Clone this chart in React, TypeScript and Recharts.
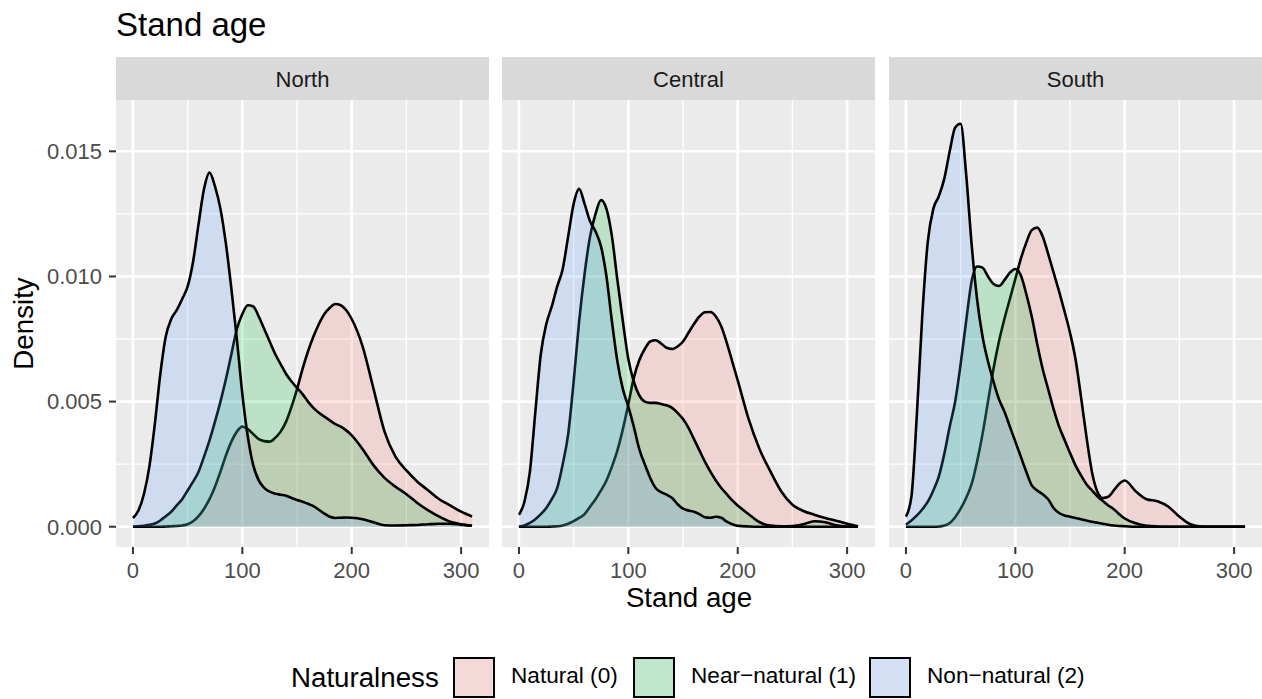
import React from 'react';
import { AreaChart, Area, XAxis, YAxis, CartesianGrid } from 'recharts';

const FONT = '"Liberation Sans", Arial, Helvetica, sans-serif';

// stand age grid (years)
const ages = [
  0, 5, 10, 15, 20, 25, 30, 35, 40, 45, 50, 55, 60, 65, 70, 75, 80, 85, 90, 95, 100,
  105, 110, 115, 120, 125, 130, 135, 140, 145, 150, 155, 160, 165, 170, 175, 180, 185,
  190, 195, 200, 210, 220, 230, 240, 250, 260, 270, 280, 290, 300, 310,
];

const regions = ['North', 'Central', 'South'];
const categories = ['Natural (0)', 'Near\u2212natural (1)', 'Non\u2212natural (2)'];
const colors = ['#F8766D', '#00BA38', '#619CFF'];

const xTicks = [0, 100, 200, 300];
const xMinor = [50, 150, 250];
const yTicks = [0, 0.005, 0.01, 0.015];
const yMinor = [0.0025, 0.0075, 0.0125];

// densities, in units of 0.001
const northNatural = [0, 0, 0, 0, 0, 0, 0.01, 0.02, 0.03, 0.05, 0.1, 0.22, 0.42, 0.72, 1.1, 1.6, 2.2, 2.85, 3.4, 3.8, 4.0, 3.9, 3.7, 3.5, 3.42, 3.4, 3.55, 3.8, 4.2, 4.8, 5.5, 6.3, 7.0, 7.6, 8.1, 8.5, 8.75, 8.9, 8.85, 8.65, 8.3, 7.2, 5.5, 3.8, 2.8, 2.25, 1.8, 1.45, 1.1, 0.85, 0.6, 0.41];
const northNear = [0, 0.02, 0.04, 0.08, 0.13, 0.25, 0.42, 0.6, 0.85, 1.1, 1.45, 1.8, 2.2, 2.8, 3.45, 4.2, 5.0, 5.9, 6.9, 7.9, 8.5, 8.85, 8.8, 8.4, 7.9, 7.4, 6.9, 6.5, 6.1, 5.8, 5.55, 5.3, 5.0, 4.75, 4.55, 4.4, 4.25, 4.1, 4.0, 3.85, 3.65, 3.1, 2.45, 1.95, 1.6, 1.3, 0.95, 0.65, 0.4, 0.2, 0.1, 0.04];
const northNon = [0.35, 0.65, 1.3, 2.4, 4.1, 6.1, 7.6, 8.3, 8.65, 9.1, 9.6, 10.6, 12.1, 13.5, 14.15, 13.6, 12.7, 11.3, 9.5, 7.5, 5.3, 3.6, 2.45, 1.85, 1.55, 1.4, 1.32, 1.28, 1.24, 1.15, 1.07, 1.0, 0.92, 0.82, 0.68, 0.52, 0.4, 0.35, 0.36, 0.37, 0.36, 0.3, 0.18, 0.06, 0.05, 0.06, 0.07, 0.1, 0.12, 0.12, 0.08, 0.04];

const centralNatural = [0, 0, 0, 0, 0, 0, 0.01, 0.02, 0.05, 0.12, 0.22, 0.35, 0.5, 0.8, 1.1, 1.45, 1.85, 2.4, 3.05, 3.9, 4.9, 5.95, 6.65, 7.1, 7.4, 7.45, 7.32, 7.15, 7.1, 7.2, 7.4, 7.75, 8.1, 8.4, 8.57, 8.58, 8.4, 8.0, 7.35, 6.6, 5.85, 4.3, 3.1, 2.2, 1.4, 0.88, 0.63, 0.48, 0.35, 0.24, 0.12, 0.02];
const centralNear = [0, 0.05, 0.15, 0.3, 0.5, 0.75, 1.1, 1.55, 2.5, 3.7, 5.8, 8.2, 10.1, 11.6, 12.5, 13.05, 12.7, 11.6, 9.85, 8.2, 6.7, 5.8, 5.25, 5.0, 4.95, 4.95, 4.9, 4.85, 4.75, 4.55, 4.3, 3.95, 3.5, 3.05, 2.6, 2.2, 1.85, 1.55, 1.3, 1.05, 0.85, 0.5, 0.18, 0.05, 0.02, 0.03, 0.1, 0.22, 0.18, 0.06, 0.01, 0];
const centralNon = [0.48, 1.0, 2.2, 4.6, 6.9, 8.1, 8.8, 9.6, 10.3, 11.6, 12.9, 13.5, 12.9, 12.2, 11.8, 11.2, 10.0, 8.2, 6.6, 5.5, 4.8, 4.0, 3.1, 2.5, 1.95, 1.55, 1.38, 1.28, 1.15, 0.9, 0.72, 0.65, 0.6, 0.5, 0.38, 0.36, 0.4, 0.36, 0.2, 0.1, 0.04, 0.01, 0, 0, 0, 0, 0, 0, 0, 0, 0, 0];

const southNatural = [0, 0, 0, 0, 0, 0, 0.01, 0.05, 0.15, 0.38, 0.72, 1.15, 1.7, 2.6, 3.7, 5.0, 6.3, 7.4, 8.3, 9.1, 9.9, 10.7, 11.35, 11.85, 11.95, 11.6, 10.9, 10.15, 9.4, 8.6, 7.75, 6.7, 5.2, 3.6, 2.2, 1.4, 1.15, 1.2, 1.45, 1.72, 1.85, 1.42, 1.1, 1.02, 0.8, 0.4, 0.1, 0.01, 0, 0, 0, 0];
const southNear = [0.08, 0.25, 0.45, 0.7, 1.0, 1.45, 2.0, 2.9, 4.0, 5.0, 6.5, 8.2, 9.8, 10.4, 10.35, 10.0, 9.7, 9.62, 9.85, 10.15, 10.3, 10.05, 9.3, 8.4, 7.3, 6.3, 5.5, 4.7, 4.0, 3.47, 2.95, 2.45, 2.05, 1.7, 1.45, 1.22, 1.03, 0.85, 0.7, 0.5, 0.33, 0.14, 0.04, 0.01, 0, 0, 0, 0, 0, 0, 0, 0];
const southNon = [0.4, 1.2, 4.5, 8.5, 11.4, 12.7, 13.2, 13.9, 15.0, 15.95, 16.1, 14.1, 11.3, 9.1, 7.6, 6.6, 5.8, 5.1, 4.6, 4.0, 3.4, 2.8, 2.2, 1.65, 1.45, 1.3, 1.1, 0.75, 0.55, 0.45, 0.4, 0.35, 0.3, 0.25, 0.2, 0.16, 0.12, 0.08, 0.05, 0.03, 0.02, 0, 0, 0, 0, 0, 0, 0, 0, 0, 0, 0];

const buildRows = (natural: number[], near: number[], non: number[]) =>
  ages.map((age, i) => ({ age, s0: natural[i] / 1000, s1: near[i] / 1000, s2: non[i] / 1000 }));

const panelRows = [
  buildRows(northNatural, northNear, northNon),
  buildRows(centralNatural, centralNear, centralNon),
  buildRows(southNatural, southNear, southNon),
];

// layout
const PANEL_LEFT = [116, 502, 889];
const PANEL_W = 373;
const PLOT_TOP = 100;
const PLOT_H = 447;
const AXIS_H = 53;
const Y_AXIS_W = 116;
const STRIP_TOP = 57;
const STRIP_H = 43;
const X_DOMAIN: [number, number] = [-15.5, 325.5];
const Y_DOMAIN: [number, number] = [-0.00081, 0.01705];

const tickStyle = { fill: '#4D4D4D', fontSize: 22, fontFamily: FONT };
const tickLine = { stroke: '#333333', strokeWidth: 2 };

function Panel({ idx }: { idx: number }) {
  const showY = idx === 0;
  const width = showY ? Y_AXIS_W + PANEL_W : PANEL_W;
  const left = showY ? 0 : PANEL_LEFT[idx];
  return (
    <div style={{ position: 'absolute', left, top: PLOT_TOP }}>
      <AreaChart
        width={width}
        height={PLOT_H + AXIS_H}
        data={panelRows[idx]}
        margin={{ top: 0, right: 0, bottom: 0, left: 0 }}
      >
        <CartesianGrid
          horizontalValues={yMinor}
          verticalValues={xMinor}
          stroke="#FFFFFF"
          strokeWidth={1.3}
          fill="#EBEBEB"
          fillOpacity={1}
        />
        <CartesianGrid
          horizontalValues={yTicks}
          verticalValues={xTicks}
          stroke="#FFFFFF"
          strokeWidth={2.6}
        />
        <XAxis
          dataKey="age"
          type="number"
          domain={X_DOMAIN}
          ticks={xTicks}
          allowDataOverflow
          height={AXIS_H}
          axisLine={false}
          tickLine={tickLine}
          tickSize={7}
          tickMargin={8}
          tick={tickStyle}
        />
        <YAxis
          type="number"
          domain={Y_DOMAIN}
          ticks={yTicks}
          allowDataOverflow
          hide={!showY}
          width={Y_AXIS_W}
          axisLine={false}
          tickLine={tickLine}
          tickSize={7}
          tickMargin={7}
          tick={tickStyle}
          tickFormatter={(v: number) => v.toFixed(3)}
        />
        {categories.map((c, i) => (
          <Area
            key={c}
            type="monotone"
            dataKey={`s${i}`}
            baseValue={0}
            stroke="#000000"
            strokeWidth={2.6}
            fill={colors[i]}
            fillOpacity={0.2}
            dot={false}
            activeDot={false}
            isAnimationActive={false}
          />
        ))}
      </AreaChart>
    </div>
  );
}

const LEGEND_KEY_X = [453, 633, 869];

export default function App() {
  return (
    <div
      style={{
        position: 'absolute',
        left: 0,
        top: 0,
        width: 1262,
        height: 699,
        background: '#FFFFFF',
        fontFamily: FONT,
        overflow: 'hidden',
      }}
    >
      <svg width={1262} height={699} style={{ position: 'absolute', left: 0, top: 0 }}>
        <text x={116} y={36} fontSize={33} fill="#000000">Stand age</text>
        {regions.map((r, i) => (
          <g key={r}>
            <rect x={PANEL_LEFT[i]} y={STRIP_TOP} width={PANEL_W} height={STRIP_H} fill="#D9D9D9" />
            <text x={PANEL_LEFT[i] + PANEL_W / 2} y={86.5} fontSize={22} fill="#1A1A1A" textAnchor="middle">
              {r}
            </text>
          </g>
        ))}
        <text x={689} y={607} fontSize={27.7} textAnchor="middle" fill="#000000">Stand age</text>
        <text
          x={0}
          y={0}
          fontSize={27.7}
          textAnchor="middle"
          fill="#000000"
          transform={`translate(33, 323.5) rotate(-90)`}
        >
          Density
        </text>
        <text x={291} y={687} fontSize={27.7} fill="#000000">Naturalness</text>
        {categories.map((c, i) => (
          <g key={c}>
            <rect x={LEGEND_KEY_X[i]} y={657} width={42} height={41} fill="#F2F2F2" />
            <rect
              x={LEGEND_KEY_X[i] + 1}
              y={658}
              width={40}
              height={39}
              fill={colors[i]}
              fillOpacity={0.2}
              stroke="#000000"
              strokeWidth={2}
            />
            <text x={LEGEND_KEY_X[i] + 58} y={683} fontSize={22.6} fill="#000000">{c}</text>
          </g>
        ))}
      </svg>
      {regions.map((r, i) => (
        <Panel key={r} idx={i} />
      ))}
    </div>
  );
}
